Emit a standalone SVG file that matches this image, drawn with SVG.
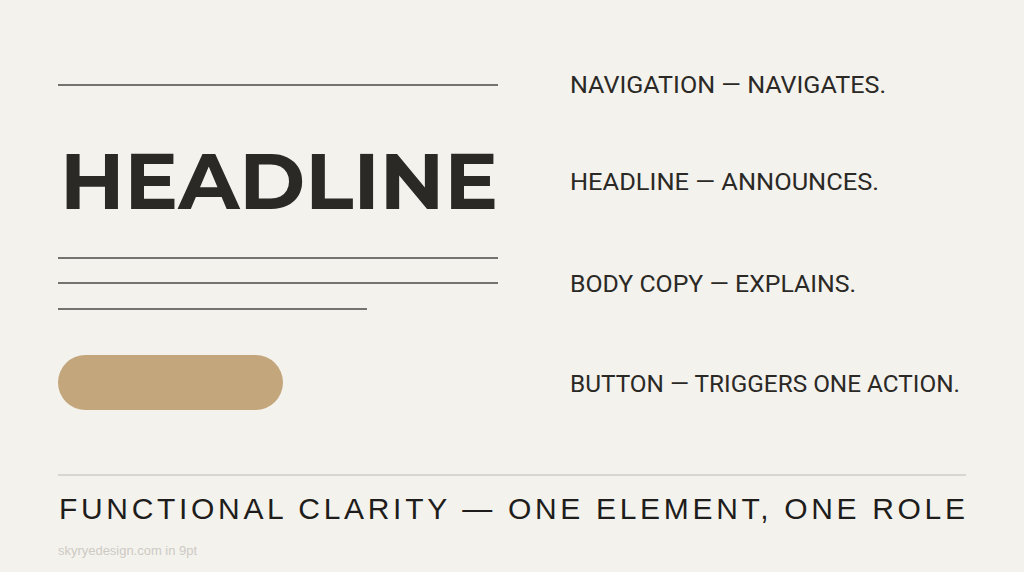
<svg xmlns="http://www.w3.org/2000/svg" width="1024" height="572" viewBox="0 0 1024 572">
<style>
.rule{stroke:#4a4845;stroke-width:1.6;fill:none}
.lbl{font-family:Roboto,"Liberation Sans",sans-serif;font-size:24px;fill:#2b2926}
.big{font-family:Montserrat,"Open Sans","Liberation Sans",sans-serif;font-weight:700;font-size:78px;fill:#2b2926}
.foot{font-family:"Liberation Sans",Roboto,sans-serif;font-size:30px;fill:#1e1d1b}
</style>
<rect width="1024" height="572" fill="#f4f2ed"/>
<g id="wireframe">
<line class="rule" x1="58" y1="85" x2="498" y2="85"/>
<text class="big" x="60" y="209" textLength="438" lengthAdjust="spacingAndGlyphs">HEADLINE</text>
<line class="rule" x1="58" y1="258" x2="498" y2="258"/>
<line class="rule" x1="58" y1="283" x2="498" y2="283"/>
<line class="rule" x1="58" y1="309" x2="367" y2="309"/>
<rect x="58" y="355" width="225" height="55" rx="27.5" fill="#c4a67c"/>
</g>
<g id="labels">
<text class="lbl" x="570" y="93" textLength="316" lengthAdjust="spacingAndGlyphs">NAVIGATION — NAVIGATES.</text>
<text class="lbl" x="570" y="190" textLength="309" lengthAdjust="spacingAndGlyphs">HEADLINE — ANNOUNCES.</text>
<text class="lbl" x="570" y="292" textLength="286" lengthAdjust="spacingAndGlyphs">BODY COPY — EXPLAINS.</text>
<text class="lbl" x="570" y="392" textLength="390" lengthAdjust="spacingAndGlyphs">BUTTON — TRIGGERS ONE ACTION.</text>
</g>
<line x1="58" y1="475" x2="966" y2="475" stroke="#cfccc6" stroke-width="1.5"/>
<text class="foot" x="59" y="519" textLength="906" lengthAdjust="spacing">FUNCTIONAL CLARITY — ONE ELEMENT, ONE ROLE</text>
<text x="58" y="555" font-family="'Liberation Sans',Roboto,sans-serif" font-size="12" fill="#cdcac4" textLength="139" lengthAdjust="spacingAndGlyphs">skyryedesign.com in 9pt</text>
</svg>
